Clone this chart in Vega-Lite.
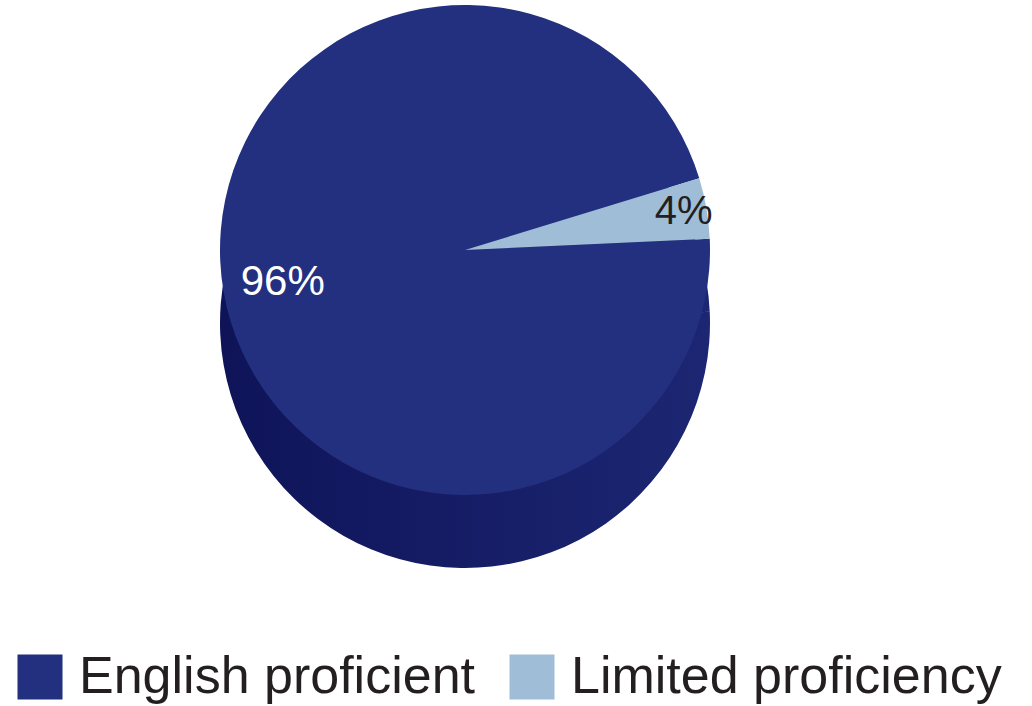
{
  "$schema": "https://vega.github.io/schema/vega-lite/v6.json",
  "width": 930,
  "height": 500,
  "autosize": {"type": "none"},
  "padding": {"left": 0, "top": 0, "right": 102, "bottom": 206},
  "background": "white",
  "data": {"values": [
    {"category": "English proficient", "share": 96, "label": "96%"},
    {"category": "Limited proficiency", "share": 4, "label": "4%"}
  ]},
  "encoding": {
    "theta": {"field": "share", "type": "quantitative", "stack": true, "scale": {"range": [1.525, 7.808]}},
    "order": {"field": "category", "sort": "ascending"}
  },
  "layer": [
    {
      "mark": {"type": "arc", "outerRadius": 245, "yOffset": 73,
        "fill": {"gradient": "linear", "x1": 0, "x2": 1, "y1": 0, "y2": 0,
          "stops": [{"offset": 0, "color": "#0f1459"}, {"offset": 1, "color": "#1c2672"}]}},
      "encoding": {"detail": {"field": "category"}}
    },
    {
      "mark": {"type": "arc", "outerRadius": 245},
      "encoding": {
        "color": {"field": "category", "type": "nominal",
          "scale": {"domain": ["English proficient", "Limited proficiency"], "range": ["#22307f", "#9fbdd6"]},
          "legend": {
            "title": null, "orient": "none", "legendX": 14, "legendY": 651,
            "direction": "horizontal", "symbolType": "square", "symbolSize": 2025,
            "symbolStrokeWidth": 0, "labelFont": "Liberation Sans", "labelFontSize": 52,
            "labelColor": "#231f20", "labelOffset": 13, "columnPadding": 31, "labelLimit": 600,
            "encode": {"symbols": {"update": {"fill": {"signal": "datum.value === 'English proficient' ? '#283891' : '#b4d5ef'"}, "opacity": {"value": 1}}}}
          }}
      }
    },
    {
      "mark": {"type": "text", "radius": 185, "font": "Liberation Sans", "fontSize": 42, "fill": "#ffffff", "align": "center", "baseline": "middle"},
      "encoding": {
        "detail": {"field": "category"},
        "text": {"condition": {"test": "datum.category === 'English proficient'", "field": "label"}, "value": ""}
      }
    },
    {
      "mark": {"type": "text", "radius": 222, "font": "Liberation Sans", "fontSize": 40, "fill": "#231f20", "align": "center", "baseline": "middle"},
      "encoding": {
        "detail": {"field": "category"},
        "text": {"condition": {"test": "datum.category === 'Limited proficiency'", "field": "label"}, "value": ""}
      }
    }
  ],
  "config": {"view": {"stroke": null}}
}
